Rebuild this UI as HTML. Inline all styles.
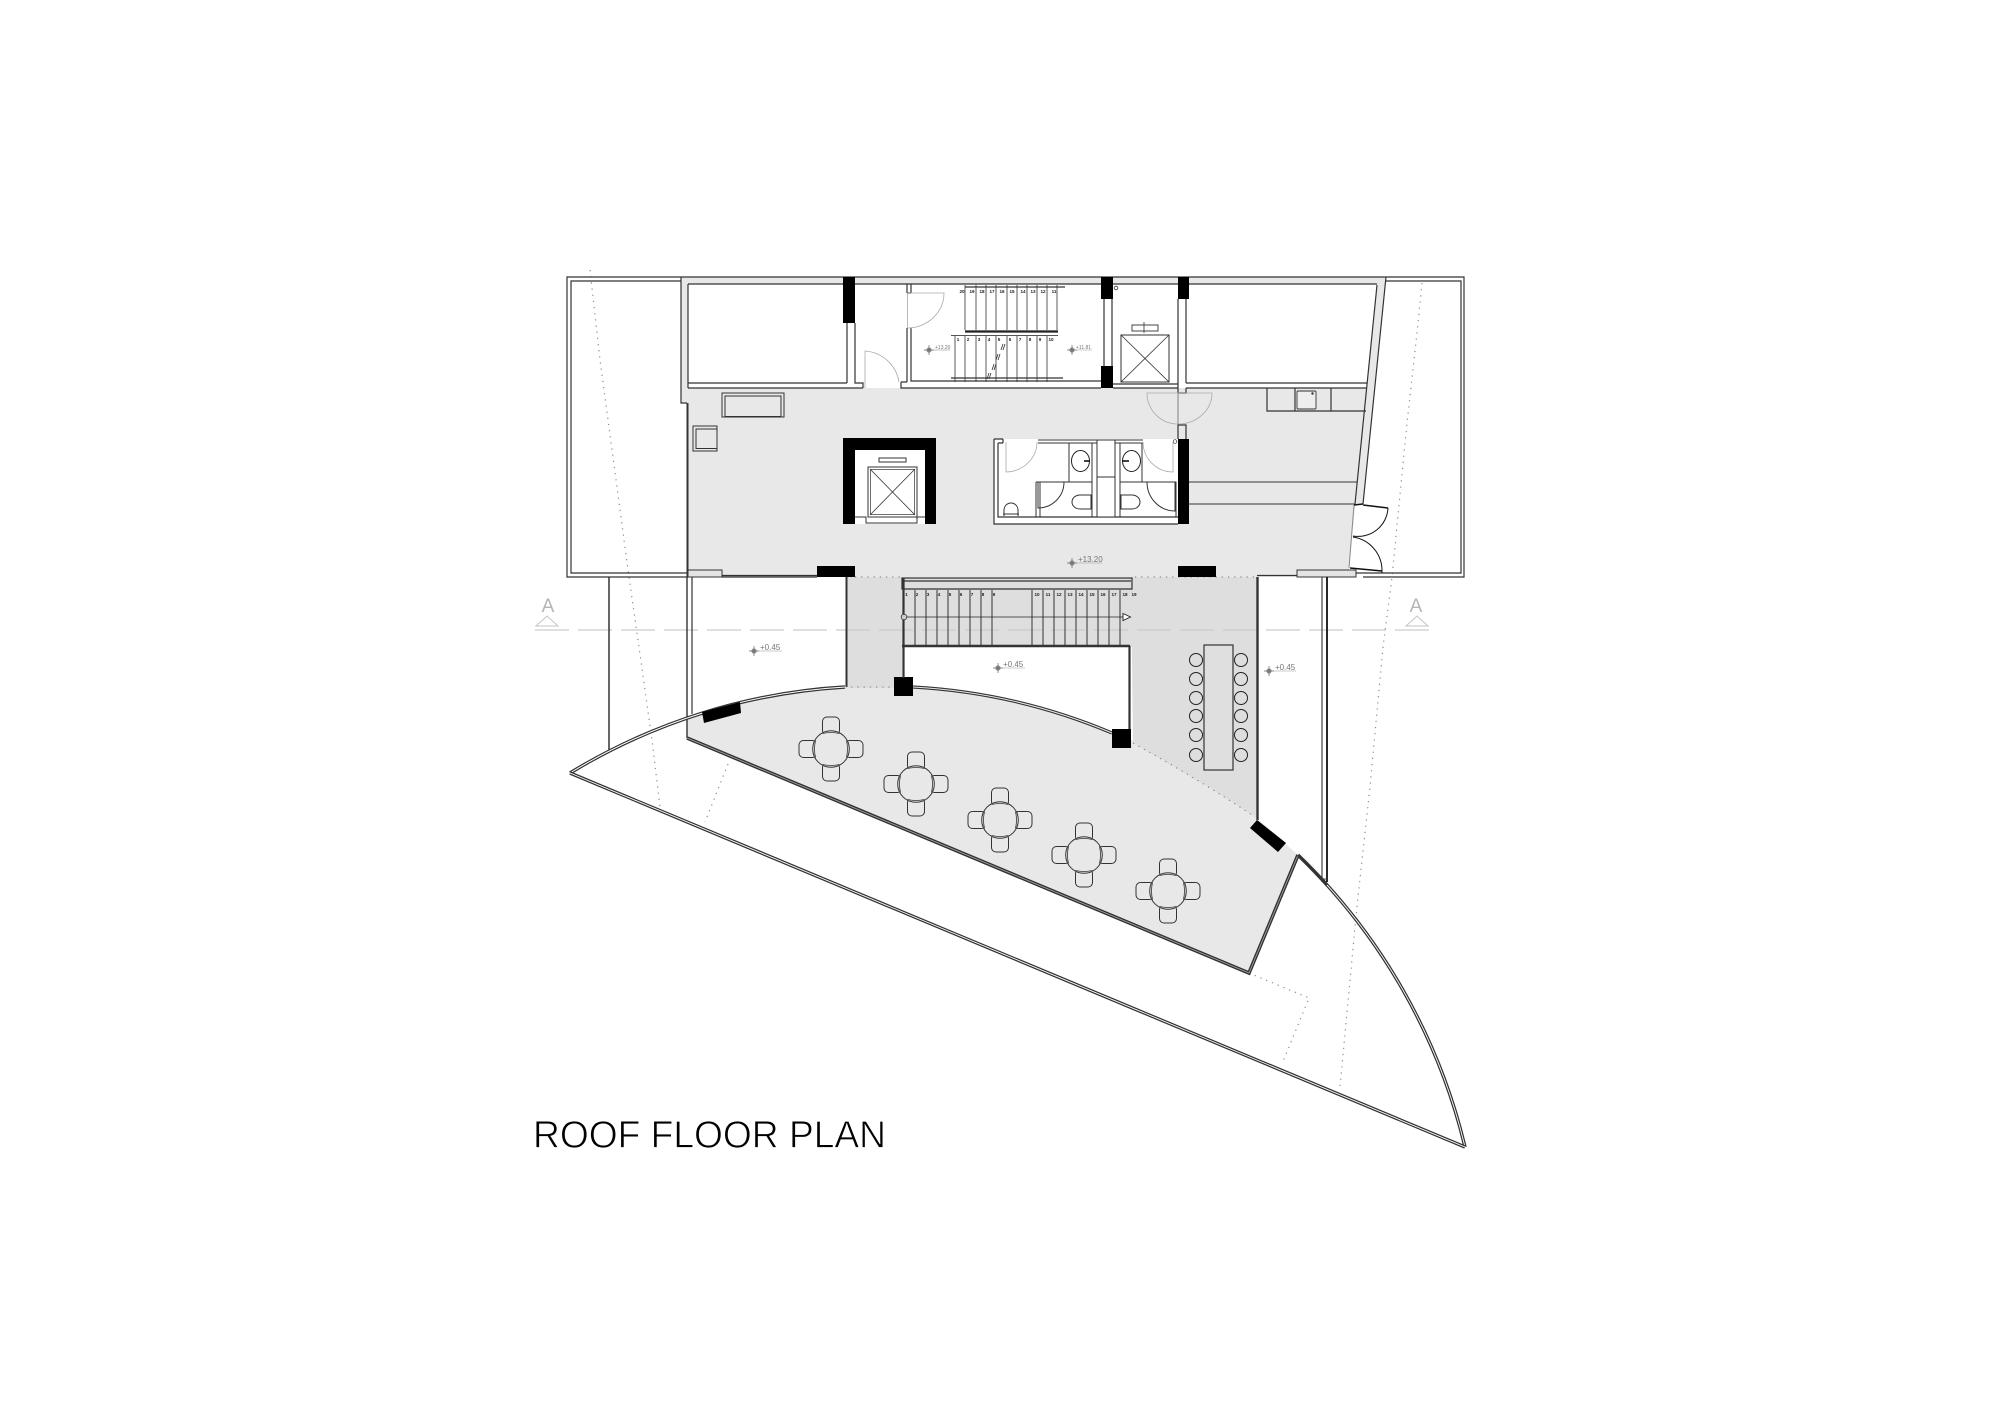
<!DOCTYPE html>
<html><head><meta charset="utf-8"><title>Roof Floor Plan</title>
<style>
html,body{margin:0;padding:0;background:#fff}
svg{display:block}
text{font-family:"Liberation Sans",sans-serif}
.l{fill:none;stroke:#333;stroke-width:1.2}
.t{fill:none;stroke:#333;stroke-width:.8}
.g{fill:none;stroke:#aaa;stroke-width:.8}
.b{fill:#000;stroke:none}
.dot{fill:none;stroke:#8a8a8a;stroke-width:1.2;stroke-dasharray:1.2 5}
.n{font-size:4.6px;fill:#222;text-anchor:middle;font-weight:bold}
.lv{fill:#777}
</style></head>
<body>
<svg width="2000" height="1414" viewBox="0 0 2000 1414" xmlns="http://www.w3.org/2000/svg">
<defs>
<g id="tb">
<g fill="#e9e8e8" stroke="#333" stroke-width="1">
<rect x="-8.5" y="-32" width="17" height="18" rx="4.5"/>
<rect x="-8.5" y="14" width="17" height="18" rx="4.5"/>
<rect x="-32" y="-8.5" width="18" height="17" rx="4.5"/>
<rect x="14" y="-8.5" width="18" height="17" rx="4.5"/>
</g>
<circle r="18.3" fill="#e9e8e8" stroke="#333" stroke-width="1"/>
<path d="M-8.5-15.5Q0-17.5 8.5-15.5M-8.5 15.5Q0 17.5 8.5 15.5M-15.5-8.5Q-17.5 0-15.500 8.5M15.5-8.5Q17.5 0 15.5 8.5" fill="none" stroke="#333" stroke-width=".8"/>
</g>
<g id="lv"><circle r="2.6" fill="#8f8f8f"/><path d="M-5 0H5M0-5V5" stroke="#666" stroke-width=".7"/></g>
</defs>
<rect width="2000" height="1414" fill="#fff"/>

<!-- fills -->
<path d="M688 388H1367L1349 568V577H688Z" fill="#e9e8e8"/>
<path d="M687 738V718A595 595 0 0 1 1257 818L1298 855L1249 973Z" fill="#e9e8e8"/>
<rect x="847" y="577" width="55" height="111" fill="#dedede"/>
<path d="M1131 577H1257V818L1210 788L1133 743Z" fill="#dedede"/>
<rect x="902" y="578" width="230" height="69" fill="#dedede"/>
<path d="M905 647H1128V729H1112L1090 722A595 595 0 0 0 913 687H905Z" fill="#fff"/>
<path d="M681 277H1386L1363 504H1355L1377 284H688V403H681Z" fill="#e9e8e8"/>

<!-- section line -->
<path d="M535 630H1432" stroke="#ccc" stroke-width="1.3" stroke-dasharray="34 9" fill="none"/>
<text x="548" y="612" font-size="19" fill="#b5b5b5" text-anchor="middle">A</text>
<path d="M536 626H558L547 616Z" fill="none" stroke="#c4c4c4" stroke-width="1"/>
<text x="1416" y="612" font-size="19" fill="#b5b5b5" text-anchor="middle">A</text>
<path d="M1406 626H1428L1417 616Z" fill="none" stroke="#c4c4c4" stroke-width="1"/>

<!-- dotted structural -->
<path class="dot" d="M590 270L600 360L613 457L628 570L637 633L652 740L660 807"/>
<path class="dot" d="M728 764L705 822"/>
<path class="dot" d="M1422 283L1417 333L1407 423L1392 577L1383 647L1370 787L1358 897L1355 927L1340 1087"/>
<path class="dot" d="M1249 973L1309 998L1282 1064"/>
<path class="dot" d="M855 577H902M1135 577H1257M902 687H847"/>
<path class="dot" d="M1133 743Q1200 780 1255 817"/>

<!-- terraces & outer walls -->
<path class="l" d="M681 277H567V577H688"/>
<path class="l" d="M681 281H571V573H687"/>
<path class="l" d="M681 277H1464V577H1363"/>
<path class="l" d="M1386 281H1461V573H1356"/>
<path class="l" d="M681 277V403H687M688 284V388"/>
<path class="l" d="M688 284H1377M688 383H847M688 388H863"/>
<path class="l" d="M1186 383H1367M1186 388H1367"/>
<path class="l" d="M1386 277L1363 504"/>
<path class="l" d="M1377 285L1355 504"/>
<path d="M687.5 403V577" stroke="#333" stroke-width="2" fill="none"/>
<path d="M609 577V752" stroke="#333" stroke-width="1.5" fill="none"/>

<!-- bottom of main room -->
<rect x="688" y="570" width="34" height="7" fill="#e4e4e4" stroke="#333" stroke-width="1"/>
<path class="l" d="M722 575.5H817M722 577H817"/>
<rect x="1297" y="570" width="59" height="7" fill="#e4e4e4" stroke="#333" stroke-width="1"/>
<path class="l" d="M1257 575.5H1297"/>

<!-- walls below -->
<path d="M687 577V738" stroke="#333" stroke-width="1.4" fill="none"/>
<path d="M692 577V714" stroke="#333" stroke-width="1.2" fill="none"/>
<path d="M846.5 577V687" stroke="#333" stroke-width="2" fill="none"/>
<path d="M1257.5 577V820" stroke="#333" stroke-width="2.4" fill="none"/>
<path d="M1322 577V882" stroke="#444" stroke-width="1.2" fill="none"/>
<path d="M1327 577V882" stroke="#111" stroke-width="1.8" fill="none"/>
<path d="M1322 879H1327" stroke="#444" stroke-width="1"/>

<!-- arcs -->
<path d="M570 773A595 595 0 0 1 845 687" fill="none" stroke="#333" stroke-width="3.4"/>
<path d="M570 773A595 595 0 0 1 845 687" fill="none" stroke="#fff" stroke-width="1"/>
<path d="M913 687A595 595 0 0 1 1112 733" fill="none" stroke="#333" stroke-width="3.2"/>
<path d="M913 687A595 595 0 0 1 1112 733" fill="none" stroke="#e9e8e8" stroke-width="1"/>
<path d="M1298 855A600 600 0 0 1 1465 1147" fill="none" stroke="#333" stroke-width="3.4"/>
<path d="M1298 855A600 600 0 0 1 1465 1147" fill="none" stroke="#fff" stroke-width=".9"/>
<path d="M570 773L1465 1147" fill="none" stroke="#333" stroke-width="3.4"/>
<path d="M570 773L1465 1147" fill="none" stroke="#fff" stroke-width=".9"/>
<path d="M687 738L1249 973L1298 855" fill="none" stroke="#333" stroke-width="3.6" stroke-linejoin="miter"/>
<path d="M687 738L1249 973L1298 855" fill="none" stroke="#aaa" stroke-width=".8"/>
<path d="M1298 855L1327 885" stroke="#333" stroke-width="2.4" fill="none"/>

<!-- black columns -->
<g class="b">
<rect x="843" y="277" width="12" height="46"/>
<rect x="1101" y="277" width="12" height="22"/>
<rect x="1101" y="366" width="12" height="22"/>
<rect x="1178" y="277" width="11" height="22"/>
<rect x="1178" y="439" width="11" height="85"/>
<rect x="817" y="566" width="38" height="11"/>
<rect x="1178" y="566" width="38" height="11"/>
<rect x="894" y="677" width="19" height="19"/>
<rect x="1112" y="729" width="19" height="19"/>
<path d="M702 712L740 702L741 713L704 723Z"/>
<path d="M1257 820L1286 843L1278 852L1250 828Z"/>
<path d="M843 438H936V524H925V450H855V524H843Z"/>
</g>

<!-- room walls upper -->
<path class="l" d="M847 323V383M855 323V383H863V388"/>
<path class="l" d="M907 284V293M911 284V293M907 293H911"/>
<path class="l" d="M907 328V382M911 328V381H1101M901 382V388H1101M901 382H907"/>
<path class="l" d="M1104 299V366M1112 299V366"/>
<path class="l" d="M1178 299V388M1186 299V383"/>
<path class="l" d="M1113 384H1178M1113 388H1178"/>
<path class="l" d="M1178 388V439M1178 388V393H1186V388M1178 425H1186V439"/>

<!-- doors -->
<path class="g" d="M865 388V351A37 37 0 0 1 899 382"/>
<path class="g" d="M907.5 328V293H944A37 35 0 0 1 907.5 328"/>
<path class="g" d="M1147 393H1178V424A31 31 0 0 1 1147 393Z"/>
<path class="g" d="M1212 393H1178V424A34 31 0 0 0 1212 393Z"/>

<!-- stair upper -->
<path class="t" d="M965 285V330M976 285V330M986 285V330M996 285V330M1007 285V330M1017 285V330M1027 285V330M1037 285V330M1047 285V330M1057 285V330"/>
<path class="t" d="M955 335V382M965 335V382M976 335V382M986 335V382M996 335V382M1007 335V382M1017 335V382M1027 335V382M1037 335V382M1047 335V382"/>
<path class="l" d="M965 287H1065M951 378H1063"/>
<path d="M965 331.500H1058" stroke="#222" stroke-width="2.200" fill="none"/>
<path d="M951 335.500H1058" stroke="#555" stroke-width="1" fill="none"/>
<path d="M1003 344L1001 350M1005 344L1003 350M998 354L996 360M1000 354L998 360M994 364L992 370M996 364L994 370M989 373L987 379M991 373L989 379" stroke="#333" stroke-width=".8"/>
<g class="n">
<text x="962" y="293">20</text><text x="972" y="293">19</text><text x="982" y="293">18</text><text x="992" y="293">17</text><text x="1002" y="293">16</text><text x="1012" y="293">15</text><text x="1023" y="293">14</text><text x="1033" y="293">13</text><text x="1043" y="293">12</text><text x="1054" y="293">11</text>
<text x="958" y="341">1</text><text x="968" y="341">2</text><text x="979" y="341">3</text><text x="989" y="341">4</text><text x="999" y="341">5</text><text x="1010" y="341">6</text><text x="1020" y="341">7</text><text x="1030" y="341">8</text><text x="1040" y="341">9</text><text x="1051" y="341">10</text>
</g>

<!-- small shaft -->
<circle cx="1116" cy="288" r="1.8" fill="none" stroke="#333" stroke-width=".8"/>
<rect x="1121" y="335" width="48" height="47" fill="none" stroke="#333" stroke-width="1"/>
<path class="t" d="M1121 335L1169 382M1169 335L1121 382"/>
<rect x="1132" y="325" width="26" height="6" fill="none" stroke="#333" stroke-width=".9"/>
<path class="t" d="M1144 322V333"/>

<!-- counter -->
<path class="l" d="M1267 388V411H1366M1295 388V411M1331 388V411"/>
<rect x="1297" y="391" width="19" height="18" rx="1" fill="#eee" stroke="#333" stroke-width=".9"/>
<circle cx="1312.5" cy="393.5" r="1.2" fill="#333"/>

<!-- corridor lines -->
<path d="M1189 482H1357M1189 504H1355" stroke="#333" stroke-width="1" fill="none"/>

<!-- entry doors -->
<path d="M1354 505L1349 568" stroke="#888" stroke-width="1" fill="none"/>
<path d="M1363 505L1388 508" stroke="#111" stroke-width="1.6" fill="none"/>
<path d="M1388 508A30 30 0 0 1 1353 536" stroke="#111" stroke-width="1" fill="none"/>
<path d="M1353 537A34 34 0 0 1 1382 571" stroke="#111" stroke-width="1" fill="none"/>
<path d="M1350 568L1382 571" stroke="#111" stroke-width="1.4" fill="none"/>
<path d="M1354 505L1363 504" stroke="#111" stroke-width="1.4"/>
<path d="M1382 571V573" stroke="#111" stroke-width="1"/>

<!-- furniture -->
<rect x="722" y="393" width="62" height="24" fill="none" stroke="#333" stroke-width="1"/>
<rect x="725" y="396" width="56" height="20.5" fill="#e9e8e8" stroke="#333" stroke-width="1"/>
<rect x="693" y="426" width="24" height="25" fill="none" stroke="#333" stroke-width="1"/>
<rect x="696" y="429" width="21" height="19.5" fill="#e9e8e8" stroke="#333" stroke-width="1"/>

<!-- elevator core -->
<rect x="855" y="450" width="70" height="74" fill="#fff"/>
<path d="M855 517H866V523H917V517H925" fill="none" stroke="#333" stroke-width="1"/>
<rect x="879" y="458" width="27" height="4" fill="none" stroke="#333" stroke-width="1"/>
<rect x="868" y="467" width="49" height="50" fill="none" stroke="#333" stroke-width="1"/>
<rect x="870.5" y="469.5" width="44" height="45" fill="none" stroke="#333" stroke-width=".7"/>
<path class="t" d="M870 469L915 515M915 469L870 515"/>

<!-- WC block -->
<rect x="994" y="439" width="184" height="85" fill="#fff"/>
<path class="l" d="M994 439H1003M994 439V524H1178M998 443V517H1178M998 443H1003M1003 439V443"/>
<path d="M1038 440H1143M1038 443H1143" stroke="#333" stroke-width="1" fill="none"/>
<path class="g" d="M1006 442V472A32 30 0 0 0 1037 442"/>
<path d="M1069 443V482H1092V443M1036 482V517M1040 482V517M1036 482H1092V517" stroke="#333" stroke-width="1" fill="none"/>
<path class="g" d="M1143 442A30 30 0 0 0 1173 472V442"/>
<circle cx="1175" cy="441.5" r="1.8" fill="none" stroke="#333" stroke-width=".7"/>
<rect x="1097" y="440" width="18" height="37" fill="#fff" stroke="#333" stroke-width="1"/>
<rect x="1097" y="477" width="18" height="40" fill="#fff" stroke="#333" stroke-width="1"/>
<path d="M1120 443V482H1142V443M1120 482H1176V517M1120 482V517" stroke="#333" stroke-width="1" fill="none"/>
<ellipse cx="1080.5" cy="461" rx="9" ry="10.5" fill="none" stroke="#222" stroke-width="1"/>
<path d="M1084 461H1090" stroke="#111" stroke-width="1.6"/>
<ellipse cx="1131.5" cy="461" rx="9" ry="10.5" fill="none" stroke="#222" stroke-width="1"/>
<path d="M1122 461H1129" stroke="#111" stroke-width="1.6"/>
<path d="M1038 482V508A26 26 0 0 0 1064 482" fill="none" stroke="#333" stroke-width="1"/>
<path d="M1175 482V511A28 29 0 0 1 1147 482" fill="none" stroke="#333" stroke-width="1"/>
<path d="M1091 495V509H1080A8 7 0 0 1 1080 495Z" fill="none" stroke="#333" stroke-width="1"/>
<path d="M1121 495V509H1132A8 7 0 0 0 1132 495Z" fill="none" stroke="#333" stroke-width="1"/>
<path d="M1004 516V510A7 7 0 0 1 1018 510V516" fill="none" stroke="#333" stroke-width="1"/>
<path d="M1003 514H1019" stroke="#333" stroke-width="1"/>

<!-- main stair -->
<path class="l" d="M902 578H1132V589H902Z"/>
<path class="l" d="M902 581H1131"/>
<path d="M903.5 578V678" stroke="#333" stroke-width="2.2" fill="none"/>
<path d="M1129.5 646V729" stroke="#333" stroke-width="2.2" fill="none"/>
<path d="M902 646H1130" stroke="#333" stroke-width="2.6" fill="none"/>
<path d="M915 590V645M926 590V645M937 590V645M948 590V645M959 590V645M970 590V645M981 590V645M992 590V645M1032 590V645M1043 590V645M1054 590V645M1065 590V645M1076 590V645M1087 590V645M1098 590V645M1109 590V645M1120 590V645" stroke="#333" stroke-width="1" fill="none"/>
<path d="M906 617H1123" stroke="#222" stroke-width=".8" fill="none"/>
<circle cx="904" cy="617" r="2.8" fill="#ccc" stroke="#333" stroke-width=".8"/>
<path d="M1123 613.5L1130.5 617L1123 620.5Z" fill="#fff" stroke="#222" stroke-width=".9"/>
<g class="n">
<text x="906.500" y="596">1</text><text x="917" y="596">2</text><text x="928" y="596">3</text><text x="939" y="596">4</text><text x="950" y="596">5</text><text x="961" y="596">6</text><text x="972" y="596">7</text><text x="983" y="596">8</text><text x="994" y="596">9</text>
<text x="1037" y="596">10</text><text x="1048" y="596">11</text><text x="1059" y="596">12</text><text x="1070" y="596">13</text><text x="1081" y="596">14</text><text x="1092" y="596">15</text><text x="1103" y="596">16</text><text x="1114" y="596">17</text><text x="1125" y="596">18</text><text x="1134" y="596">19</text>
</g>

<!-- long table -->
<rect x="1204" y="645" width="29" height="125" fill="#dfdfdf" stroke="#333" stroke-width="1.2"/>
<g fill="none" stroke="#222" stroke-width="1">
<circle cx="1196" cy="660" r="6.5"/><circle cx="1196" cy="679" r="6.5"/><circle cx="1196" cy="698" r="6.5"/><circle cx="1196" cy="716" r="6.5"/><circle cx="1196" cy="735" r="6.5"/><circle cx="1196" cy="755" r="6.5"/>
<circle cx="1241" cy="660" r="6.5"/><circle cx="1241" cy="679" r="6.5"/><circle cx="1241" cy="698" r="6.5"/><circle cx="1241" cy="716" r="6.5"/><circle cx="1241" cy="735" r="6.5"/><circle cx="1241" cy="755" r="6.5"/>
</g>

<!-- round tables -->
<use href="#tb" x="831" y="749"/>
<use href="#tb" x="916" y="784"/>
<use href="#tb" x="1000" y="820"/>
<use href="#tb" x="1084" y="855"/>
<use href="#tb" x="1168" y="891"/>

<!-- levels -->
<use href="#lv" x="929" y="350"/><text class="lv" x="935" y="349" font-size="5">+13.20</text><path d="M934 350H950" stroke="#999" stroke-width=".6"/>
<use href="#lv" x="1072" y="350"/><text class="lv" x="1076" y="349" font-size="5">+11.81</text><path d="M1075 350H1092" stroke="#999" stroke-width=".6"/>
<use href="#lv" x="1072" y="563"/><text class="lv" x="1078" y="562" font-size="8">+13.20</text><path d="M1077 563H1102" stroke="#999" stroke-width=".6"/>
<use href="#lv" x="754" y="651"/><text class="lv" x="760" y="650" font-size="8">+0.45</text><path d="M759 651H782" stroke="#999" stroke-width=".6"/>
<use href="#lv" x="998" y="668"/><text class="lv" x="1003" y="667" font-size="8">+0.45</text><path d="M1002 668H1025" stroke="#999" stroke-width=".6"/>
<use href="#lv" x="1269" y="671"/><text class="lv" x="1275" y="670" font-size="8">+0.45</text><path d="M1274 671H1296" stroke="#999" stroke-width=".6"/>

<!-- title -->
<text x="533" y="1147.3" font-size="38" fill="#000" stroke="#fff" stroke-width=".8" textLength="353" lengthAdjust="spacingAndGlyphs">ROOF FLOOR PLAN</text>
</svg>
</body></html>
